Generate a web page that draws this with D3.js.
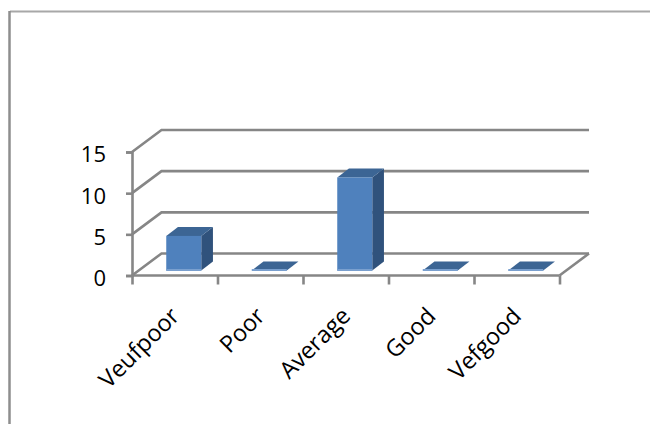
<!DOCTYPE html>
<html>
<head>
<meta charset="utf-8">
<script src="https://cdn.jsdelivr.net/npm/d3@7/dist/d3.min.js"></script>
<style>
html,body{margin:0;padding:0;background:#fff;}
svg{display:block;}
text{font-family:"Open Sans",sans-serif;fill:#000;}
</style>
</head>
<body>
<svg id="chart" width="650" height="424"></svg>
<script>
const categories = ["Veufpoor","Poor","Average","Good","Vefgood"];
const values = [4.2,0,11.3,0,0];
const yTicks = [0,5,10,15];

const svg = d3.select("#chart");
const gridColor = "#868686";
const depth = {x:29.5, y:-22};
const barDepth = {x:11.7, y:-9};
const x = d3.scaleBand().domain(categories).range([132,559.5]).paddingInner(0).paddingOuter(0);
const y = d3.scaleLinear().domain([0,15]).range([275.5,152]);
const edge = d3.scaleLinear().domain([0,categories.length]).range([132,559.5]);
const line = d3.line();

// outer chart frame
svg.append("path").attr("d",line([[650,11.5],[10,11.5]])).attr("stroke","#a8a8a8").attr("stroke-width",2).attr("fill","none");
svg.append("path").attr("d",line([[9.5,11],[9.5,424]])).attr("stroke","#8e8e8e").attr("stroke-width",2.5).attr("fill","none");

// walls: gridlines
const wall = svg.append("g");
wall.selectAll("path.grid").data(yTicks).join("path").attr("class","grid")
  .attr("fill","none").attr("stroke",gridColor).attr("stroke-width",2.6)
  .attr("d",d=>line([[x.range()[0],y(d)],[x.range()[0]+depth.x,y(d)+depth.y],[x.range()[1]+depth.x,y(d)+depth.y]]));
// floor right edge
svg.append("path").attr("fill","none").attr("stroke",gridColor).attr("stroke-width",2.6)
  .attr("d",line([[x.range()[1],y(0)],[x.range()[1]+depth.x,y(0)+depth.y]]));

// bars
const barW = 35, barBase = y(0)-5;
const barG = svg.append("g").selectAll("g").data(categories.map((c,i)=>({c,v:values[i]}))).join("g");
const left = d=>x(d.c)+x.bandwidth()/2-barW/2+9;
const top_ = d=>barBase-(y(0)-y(d.v));
barG.append("path").attr("fill","#30527c")
  .attr("d",d=>line([[left(d)+barW,barBase],[left(d)+barW+barDepth.x,barBase+barDepth.y],[left(d)+barW+barDepth.x,top_(d)+barDepth.y],[left(d)+barW,top_(d)]])+"Z");
barG.append("path").attr("fill","#3c6594")
  .attr("d",d=>line([[left(d),top_(d)],[left(d)+barDepth.x,top_(d)+barDepth.y],[left(d)+barW+barDepth.x,top_(d)+barDepth.y],[left(d)+barW,top_(d)]])+"Z");
barG.append("rect").attr("fill","#4f81bd")
  .attr("x",left).attr("width",barW).attr("y",top_).attr("height",d=>barBase-top_(d));
barG.append("rect").attr("fill","#7aa0cf")
  .attr("x",left).attr("width",barW).attr("y",barBase-1.5).attr("height",2);

// y axis
const yAxis = svg.append("g").attr("transform",`translate(${x.range()[0]},0)`)
  .call(d3.axisLeft(y).tickValues(yTicks).tickSize(6).tickPadding(20).tickFormat(d3.format("d")));
yAxis.select(".domain").attr("stroke",gridColor).attr("stroke-width",2.6);
yAxis.selectAll(".tick line").attr("stroke",gridColor).attr("stroke-width",2.6);
yAxis.selectAll("text").attr("font-size",22).style("font-family",'"Open Sans",sans-serif').attr("fill","#000").attr("dy","0.45em");

// x axis
const xAxisLine = svg.append("g").attr("transform",`translate(0,${y(0)})`)
  .call(d3.axisBottom(edge).tickValues(d3.range(categories.length+1)).tickSize(9).tickFormat(""));
xAxisLine.select(".domain").attr("stroke",gridColor).attr("stroke-width",2.6).attr("d",`M${x.range()[0]},0H${x.range()[1]}`);
xAxisLine.selectAll(".tick line").attr("stroke",gridColor).attr("stroke-width",2.6);

// category labels
const xAxis = svg.append("g").attr("transform",`translate(0,${y(0)})`)
  .call(d3.axisBottom(x).tickSize(0).tickPadding(0));
xAxis.select(".domain").remove();
xAxis.selectAll("text")
  .attr("font-size",23.5).style("font-family",'"Open Sans",sans-serif').attr("fill","#000")
  .attr("text-anchor","end").attr("x",0).attr("y",0).attr("dy",0)
  .attr("transform","translate(6,42) rotate(-45)");
</script>
</body>
</html>
